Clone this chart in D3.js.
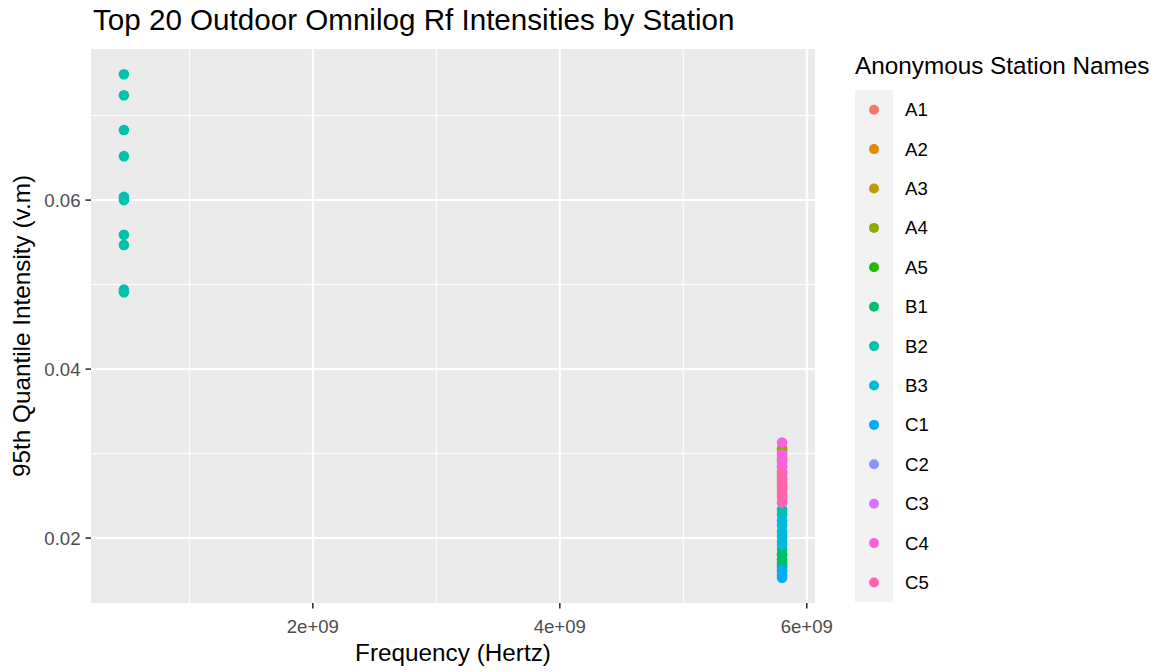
<!DOCTYPE html>
<html>
<head>
<meta charset="utf-8">
<script src="https://cdn.jsdelivr.net/npm/d3@7"></script>
<style>
  html, body { margin: 0; padding: 0; background: #fff; }
  svg { display: block; font-family: "Liberation Sans", Arial, sans-serif; }
  .tick-label { fill: #4d4d4d; font-size: 18.6px; }
  .axis-title { fill: #000; font-size: 24.3px; }
  .legend-label { fill: #000; font-size: 18.6px; }
</style>
</head>
<body>
<svg id="chart" width="1164" height="672"></svg>
<script>
(function () {
  // ---------- data ----------
  const stations = ["A1", "A2", "A3", "A4", "A5", "B1", "B2", "B3", "C1", "C2", "C3", "C4", "C5"];
  const colors = ["#F8766D", "#E18A00", "#BE9C00", "#8CAB00", "#24B700", "#00BE70", "#00C1AB",
                  "#00BBDA", "#00ACFC", "#8B93FF", "#D575FE", "#F962DD", "#FF65AC"];

  // B2 also logged at the low band
  const lowFreq = 4.7e8;
  const lowBandB2 = [0.0749, 0.0724, 0.0683, 0.0652, 0.0604, 0.0600, 0.0559, 0.0547, 0.0494, 0.0491];

  // 5.8 GHz readings, one list per station (same order as stations)
  const highFreq = 5.8e9;
  const highBand = [
    [0.0262, 0.0248, 0.0231, 0.0219, 0.0205],          // A1
    [0.0306, 0.0290, 0.0271, 0.0252],                  // A2
    [0.0301, 0.0284, 0.0266],                          // A3
    [0.0305, 0.0293, 0.0275, 0.0258],                  // A4
    [0.0181, 0.0172, 0.0166, 0.0160],                  // A5
    [0.0187, 0.0181, 0.0175, 0.0169, 0.0165],          // B1
    [0.0234, 0.0228],                                  // B2
    [0.0221, 0.0215, 0.0208, 0.0202, 0.0196, 0.0192],  // B3
    [0.0162, 0.0156, 0.0153],                          // C1
    [0.0270, 0.0285],                                  // C2
    [0.0295, 0.0279, 0.0260],                          // C3
    [0.0313, 0.0299, 0.0291, 0.0284],                  // C4
    [0.0277, 0.0270, 0.0263, 0.0256, 0.0249, 0.0242]   // C5
  ];

  const xTicks = [2e9, 4e9, 6e9];
  const xTickLabels = ["2e+09", "4e+09", "6e+09"];
  const xMinor = [1e9, 3e9, 5e9];
  const yTicks = [0.02, 0.04, 0.06];
  const yTickLabels = ["0.02", "0.04", "0.06"];
  const yMinor = [0.03, 0.05, 0.07];

  // flatten into rows, in draw order
  const rows = [];
  stations.forEach((s, i) => {
    if (s === "B2") lowBandB2.forEach(v => rows.push({ station: s, freq: lowFreq, value: v }));
    highBand[i].forEach(v => rows.push({ station: s, freq: highFreq, value: v }));
  });

  // ---------- layout ----------
  const svg = d3.select("#chart");
  const panel = { left: 91, right: 815, top: 49, bottom: 603 };

  // ggplot-style 5% expansion
  const expand = ext => { const d = (ext[1] - ext[0]) * 0.05; return [ext[0] - d, ext[1] + d]; };

  const x = d3.scaleLinear()
    .domain(expand(d3.extent(rows, d => d.freq)))
    .range([panel.left, panel.right]);
  const y = d3.scaleLinear()
    .domain(expand(d3.extent(rows, d => d.value)))
    .range([panel.bottom, panel.top]);
  const color = d3.scaleOrdinal().domain(stations).range(colors);

  // panel background
  svg.append("rect")
    .attr("x", panel.left).attr("y", panel.top)
    .attr("width", panel.right - panel.left).attr("height", panel.bottom - panel.top)
    .attr("fill", "#ebebeb");

  // grid
  const grid = svg.append("g");
  grid.selectAll(".xminor").data(xMinor).join("line")
    .attr("x1", d => x(d)).attr("x2", d => x(d))
    .attr("y1", panel.top).attr("y2", panel.bottom)
    .attr("stroke", "#fff").attr("stroke-width", 1);
  grid.selectAll(".yminor").data(yMinor).join("line")
    .attr("y1", d => y(d)).attr("y2", d => y(d))
    .attr("x1", panel.left).attr("x2", panel.right)
    .attr("stroke", "#fff").attr("stroke-width", 1);
  grid.selectAll(".xmajor").data(xTicks).join("line")
    .attr("x1", d => x(d)).attr("x2", d => x(d))
    .attr("y1", panel.top).attr("y2", panel.bottom)
    .attr("stroke", "#fff").attr("stroke-width", 2);
  grid.selectAll(".ymajor").data(yTicks).join("line")
    .attr("y1", d => y(d)).attr("y2", d => y(d))
    .attr("x1", panel.left).attr("x2", panel.right)
    .attr("stroke", "#fff").attr("stroke-width", 2);

  // points
  svg.append("g").selectAll("circle").data(rows).join("circle")
    .attr("cx", d => x(d.freq))
    .attr("cy", d => y(d.value))
    .attr("r", 5.3)
    .attr("fill", d => color(d.station));

  // axes
  const xAxis = svg.append("g");
  xAxis.selectAll("line").data(xTicks).join("line")
    .attr("x1", d => x(d)).attr("x2", d => x(d))
    .attr("y1", panel.bottom).attr("y2", panel.bottom + 5.5)
    .attr("stroke", "#333").attr("stroke-width", 1.6);
  xAxis.selectAll("text").data(xTicks).join("text")
    .attr("class", "tick-label")
    .attr("x", d => x(d)).attr("y", panel.bottom + 30)
    .attr("text-anchor", "middle")
    .text((d, i) => xTickLabels[i]);

  const yAxis = svg.append("g");
  yAxis.selectAll("line").data(yTicks).join("line")
    .attr("y1", d => y(d)).attr("y2", d => y(d))
    .attr("x1", panel.left - 5.5).attr("x2", panel.left)
    .attr("stroke", "#333").attr("stroke-width", 1.6);
  yAxis.selectAll("text").data(yTicks).join("text")
    .attr("class", "tick-label")
    .attr("x", panel.left - 10.5).attr("y", d => y(d))
    .attr("dy", "0.35em")
    .attr("text-anchor", "end")
    .text((d, i) => yTickLabels[i]);

  // titles
  svg.append("text")
    .attr("x", 93).attr("y", 30)
    .attr("font-size", 29.6)
    .attr("fill", "#000")
    .text("Top 20 Outdoor Omnilog Rf Intensities by Station");

  svg.append("text")
    .attr("class", "axis-title")
    .attr("x", (panel.left + panel.right) / 2).attr("y", 661)
    .attr("text-anchor", "middle")
    .text("Frequency (Hertz)");

  svg.append("text")
    .attr("class", "axis-title")
    .attr("transform", `translate(30,${(panel.top + panel.bottom) / 2}) rotate(-90)`)
    .attr("text-anchor", "middle")
    .text("95th Quantile Intensity (v.m)");

  // legend
  const legend = svg.append("g");
  const keyH = 39.4, keyTop = 90, keyX = 855, keyW = 38;
  legend.append("text")
    .attr("class", "axis-title")
    .attr("x", keyX).attr("y", 74)
    .text("Anonymous Station Names");
  legend.append("rect")
    .attr("x", keyX).attr("y", keyTop)
    .attr("width", keyW).attr("height", keyH * stations.length)
    .attr("fill", "#f2f2f2");
  const item = legend.selectAll(".item").data(stations).join("g")
    .attr("transform", (d, i) => `translate(0,${keyTop + keyH * i + keyH / 2})`);
  item.append("circle")
    .attr("cx", keyX + keyW / 2).attr("cy", 0)
    .attr("r", 5)
    .attr("fill", d => color(d));
  item.append("text")
    .attr("class", "legend-label")
    .attr("x", 905).attr("dy", "0.35em")
    .text(d => d);
})();
</script>
</body>
</html>
